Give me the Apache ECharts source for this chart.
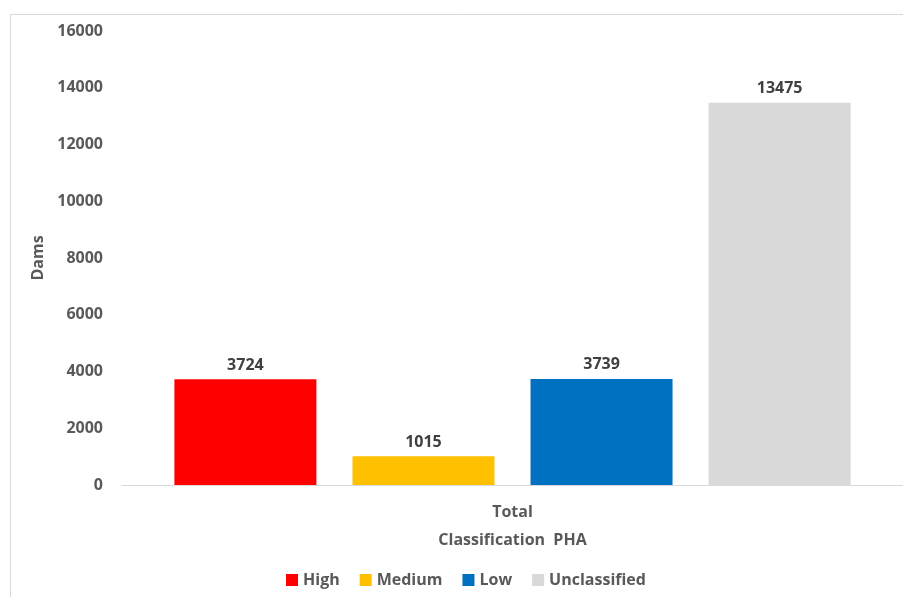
<!DOCTYPE html>
<html>
<head>
<meta charset="utf-8">
<script src="https://cdn.jsdelivr.net/npm/echarts@6/dist/echarts.min.js"></script>
<style>
  html, body { margin: 0; padding: 0; background: #fff; }
  #chart { width: 903px; height: 597px; }
</style>
</head>
<body>
<div id="chart"></div>
<script>
// Dam counts by hazard potential classification
const categories = ['Total'];
const seriesNames = ['High', 'Medium', 'Low', 'Unclassified'];
const seriesValues = [[3724], [1015], [3739], [13475]];
const seriesColors = ['#FF0000', '#FFC000', '#0070C0', '#D9D9D9'];
const yTicks = { min: 0, max: 16000, interval: 2000 };

const FONT = '"Open Sans", "Liberation Sans", sans-serif';
const TEXT = '#595959';

const chart = echarts.init(document.getElementById('chart'));

const series = seriesNames.map((name, i) => ({
  name,
  type: 'bar',
  data: seriesValues[i],
  barWidth: 142,
  barGap: '25.4%',
  itemStyle: { color: seriesColors[i] },
  label: {
    show: true,
    position: 'top',
    distance: 6,
    color: '#404040',
    fontFamily: FONT,
    fontWeight: 'bold',
    fontSize: 16
  }
}));

chart.setOption({
  animation: false,
  backgroundColor: '#fff',
  graphic: [{
    type: 'rect',
    left: 8,
    top: 12,
    shape: { width: 920, height: 620 },
    style: { fill: 'none', stroke: '#D9D9D9', lineWidth: 1 },
    silent: true
  }],
  grid: { left: 122, right: 0, top: 31, bottom: 112 },
  legend: {
    data: seriesNames,
    bottom: 4,
    left: 281,
    itemWidth: 12,
    itemHeight: 12,
    itemGap: 20,
    icon: 'rect',
    textStyle: { color: TEXT, fontFamily: FONT, fontWeight: 'bold', fontSize: 16 }
  },
  xAxis: {
    type: 'category',
    data: categories,
    name: 'Classification  PHA',
    nameLocation: 'middle',
    nameGap: 47,
    nameTextStyle: { color: TEXT, fontFamily: FONT, fontWeight: 'bold', fontSize: 16 },
    axisLine: { lineStyle: { color: '#D9D9D9', width: 1 } },
    axisTick: { show: false },
    axisLabel: { color: TEXT, fontFamily: FONT, fontWeight: 'bold', fontSize: 16, margin: 19 }
  },
  yAxis: {
    type: 'value',
    min: yTicks.min,
    max: yTicks.max,
    interval: yTicks.interval,
    name: 'Dams',
    nameLocation: 'middle',
    nameGap: 72,
    nameRotate: 90,
    nameTextStyle: { color: TEXT, fontFamily: FONT, fontWeight: 'bold', fontSize: 16 },
    axisLine: { show: false },
    axisTick: { show: false },
    splitLine: { show: false },
    axisLabel: {
      color: TEXT, fontFamily: FONT, fontWeight: 'bold', fontSize: 16, margin: 19,
      formatter: (v) => String(v)
    }
  },
  series
});
</script>
</body>
</html>
